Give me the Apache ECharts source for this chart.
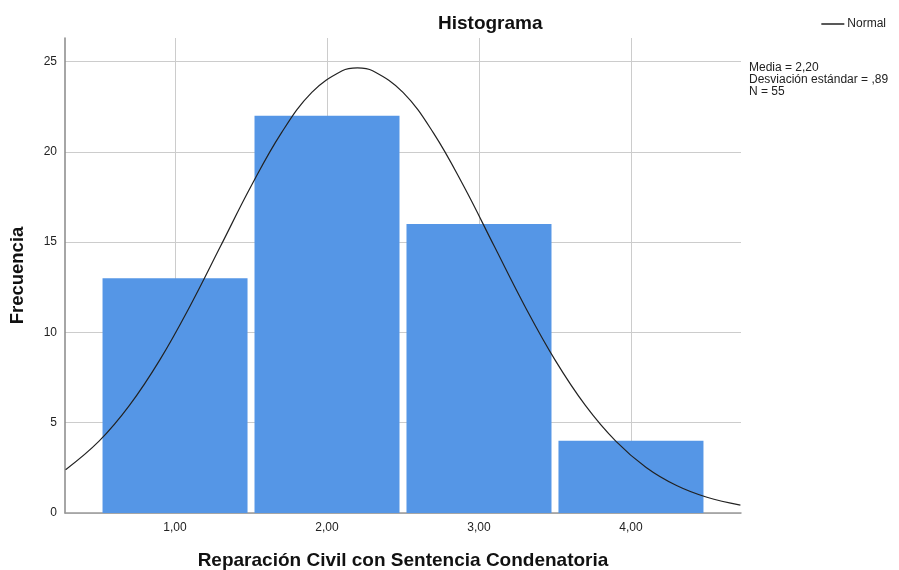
<!DOCTYPE html>
<html>
<head>
<meta charset="utf-8">
<script src="https://cdn.jsdelivr.net/npm/echarts@6/dist/echarts.min.js"></script>
<style>
  html, body { margin: 0; padding: 0; background: #fff; }
  #chart { width: 899px; height: 570px; }
</style>
</head>
<body>
<div id="chart"></div>
<script>
// bins (centre of each bar) and counts
const binCenters = [1, 2, 3, 4];
const counts = [13, 22, 16, 4];

// normal curve
const curveX = [0.28, 0.5, 0.7, 0.9, 1.1, 1.3, 1.5, 1.7, 1.9, 2.1, 2.2, 2.3, 2.5, 2.7, 2.9, 3.1, 3.3, 3.5, 3.7, 3.9, 4.1, 4.3, 4.5, 4.72];
const curveY = [2.40, 3.98, 5.96, 8.48, 11.48, 14.78, 18.09, 21.05, 23.29, 24.49, 24.65, 24.49, 23.29, 21.05, 18.09, 14.78, 11.48, 8.48, 5.96, 3.98, 2.52, 1.52, 0.87, 0.44];

const xTicks = [1, 2, 3, 4];
const xTickLabels = ['1,00', '2,00', '3,00', '4,00'];
const yTicks = [0, 5, 10, 15, 20, 25];

const statsLines = ['Media = 2,20', 'Desviación estándar = ,89', 'N = 55'];

const chart = echarts.init(document.getElementById('chart'));

const option = {
  animation: false,
  textStyle: { fontFamily: 'Arial, "Liberation Sans", sans-serif' },
  title: {
    text: 'Histograma',
    left: 433,
    top: 9,
    textStyle: { fontSize: 19, fontWeight: 'bold', color: '#111' }
  },
  legend: {
    right: 8,
    top: 13,
    itemWidth: 23,
    itemHeight: 1.5,
    itemGap: 3,
    textStyle: { fontSize: 12, color: '#222', padding: [0, 0, 0, -2] },
    data: [{ name: 'Normal', icon: 'rect' }]
  },
  grid: { left: 65, right: 158, top: 38, bottom: 57, outerBoundsMode: 'none' },
  xAxis: {
    type: 'value',
    min: 0.276,
    max: 4.724,
    name: 'Reparación Civil con Sentencia Condenatoria',
    nameLocation: 'middle',
    nameGap: 38,
    nameTextStyle: { fontSize: 19, fontWeight: 'bold', color: '#111' },
    axisLine: { onZero: false, lineStyle: { color: '#999', width: 1.5 } },
    axisTick: { show: false, customValues: xTicks },
    axisLabel: {
      customValues: xTicks,
      color: '#222',
      fontSize: 12,
      margin: 9,
      formatter: v => xTickLabels[xTicks.indexOf(v)] || ''
    },
    splitLine: { show: true, lineStyle: { color: '#ccc', width: 1 } }
  },
  yAxis: {
    type: 'value',
    min: 0,
    max: 26.3,
    name: 'Frecuencia',
    nameLocation: 'middle',
    nameGap: 38,
    nameTextStyle: { fontSize: 18.5, fontWeight: 'bold', color: '#111' },
    axisLine: { show: true, lineStyle: { color: '#888', width: 1.5 } },
    axisTick: { show: false, customValues: yTicks },
    axisLabel: { customValues: yTicks, color: '#222', fontSize: 12, margin: 8 },
    splitLine: { show: true, lineStyle: { color: '#ccc', width: 1 } }
  },
  graphic: [{
    type: 'text',
    left: 749,
    top: 62,
    style: {
      text: statsLines.join('\n'),
      fontSize: 12,
      lineHeight: 12,
      fill: '#222',
      fontFamily: 'Arial, "Liberation Sans", sans-serif'
    }
  }],
  series: [
    {
      type: 'bar',
      data: binCenters.map((c, i) => [c, counts[i]]),
      barWidth: 145,
      itemStyle: { color: '#5596e6' },
      z: 2
    },
    {
      name: 'Normal',
      type: 'line',
      data: curveX.map((x, i) => [x, curveY[i]]),
      smooth: 0.4,
      symbol: 'none',
      lineStyle: { color: '#222', width: 1.2 },
      itemStyle: { color: '#222' },
      z: 3
    }
  ]
};

chart.setOption(option);
</script>
</body>
</html>
